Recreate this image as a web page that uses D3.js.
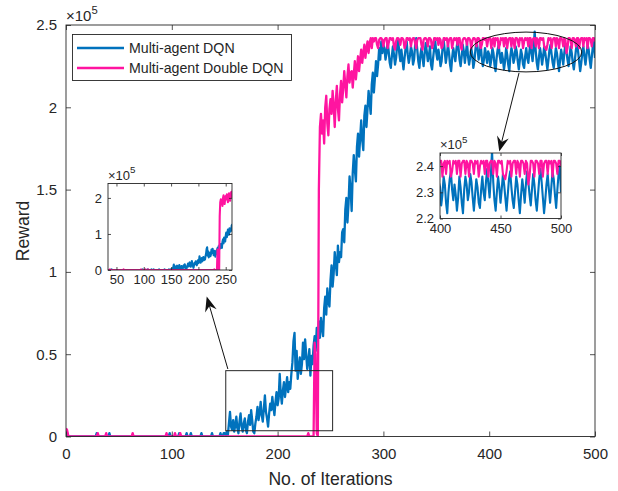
<!DOCTYPE html>
<html><head><meta charset="utf-8">
<script src="https://cdn.jsdelivr.net/npm/d3@7"></script>
<style>
body{margin:0;background:#fff}
svg text{font-family:"Liberation Sans",Arial,Helvetica,sans-serif;fill:#262626}
</style>
</head><body>
<svg id="chart" width="618" height="491"></svg>
<script>
// ---------------- data (reward in thousands, one value per iteration 0..500) ----------------
const seriesNames = ["Multi-agent DQN", "Multi-agent Double DQN"];
const dqn = [
3,2,0,0,0,0,0,0,0,0,
0,0,0,0,0,0,0,0,0,0,
0,0,0,0,0,0,0,0,0,2,
0,0,0,0,0,0,0,0,0,0,
0,2,0,0,0,0,0,0,0,0,
0,0,0,0,0,0,0,0,0,0,
0,0,0,0,0,0,0,0,0,0,
0,0,0,0,0,0,0,0,0,0,
0,0,0,0,0,0,0,0,0,0,
0,0,0,0,0,0,0,0,2,0,
0,0,0,0,0,0,0,2,0,0,
0,0,0,0,2,0,0,0,2,0,
0,0,0,0,0,0,0,0,2,0,
0,0,0,0,0,0,0,0,2,0,
0,0,0,0,0,0,2,0,0,2,
2,0,3,1,8,15,6,4,10,3,
7,12,5,2,9,14,6,3,8,11,
4,2,9,13,7,16,10,3,2,8,
12,18,10,14,21,13,9,17,25,15,
11,6,14,20,16,24,18,13,21,27,
19,23,38,26,20,28,33,24,30,36,
27,33,29,38,45,58,63,40,52,35,
42,48,38,44,57,47,59,50,41,46,
53,37,49,44,55,61,52,66,58,70,
60,72,66,61,78,85,74,90,82,79,
95,104,91,99,112,105,98,116,106,112,
109,124,126,118,138,145,130,141,158,150,
137,160,171,162,155,176,184,170,181,192,
180,174,195,201,188,199,210,203,196,214,
221,209,218,228,219,226,236,229,240,233,
238,
236,229,233,240,234,227,224,231,237,232,
226,230,238,241,233,228,235,229,223,230,
236,240,232,227,231,237,234,226,229,238,
242,235,228,224,232,236,230,225,233,239,
234,228,231,237,226,223,230,236,240,233,
229,235,231,225,228,237,241,234,227,232,
238,233,226,222,230,236,232,228,235,240,
236,229,225,231,238,234,227,233,239,231,
226,230,236,232,224,228,235,241,236,229,
233,238,230,225,229,236,232,227,234,232,
225,229,236,233,226,222,230,235,238,231,
227,233,229,223,228,236,232,226,222,231,
236,233,227,230,237,234,228,223,229,235,
232,226,224,231,236,230,227,234,239,233,
228,236,246,234,227,223,230,236,232,226,
231,237,233,228,223,229,235,238,232,227,
224,230,236,233,227,222,229,235,231,226,
233,238,234,229,225,231,237,233,227,223,
229,235,239,234,228,222,227,233,237,231,
226,232,238,235,229,224,231,237,240,230
];
const ddqn = [
5,4,1,0,0,0,0,0,0,0,
0,0,0,0,0,0,0,0,0,0,
0,0,0,0,0,0,0,0,0,0,
2,0,0,0,0,0,0,0,2,0,
0,0,0,0,0,0,0,0,0,0,
0,0,0,0,0,0,0,0,0,0,
0,0,0,2,0,0,0,0,0,0,
0,0,0,0,0,0,0,0,0,0,
0,0,0,0,0,0,0,0,0,0,
0,0,0,0,0,2,0,0,0,0,
0,0,0,2,0,0,0,0,2,0,
0,0,0,0,0,0,0,0,0,0,
0,0,0,0,0,0,0,0,0,0,
0,0,0,0,0,0,0,0,0,0,
0,0,0,0,0,0,0,0,0,0,
0,0,0,0,0,0,0,0,0,0,
0,0,0,0,0,0,0,0,0,0,
0,0,0,0,0,0,0,0,0,0,
0,0,0,0,0,0,0,0,0,0,
0,0,0,0,0,0,0,0,0,0,
0,0,0,0,0,0,0,0,0,0,
0,0,0,0,0,0,0,0,0,0,
0,0,0,0,0,0,0,0,0,2,
0,0,0,0,0,57,50,2,0,150,
188,196,184,192,178,200,207,190,183,199,
205,196,210,201,188,204,213,199,192,208,
216,203,211,222,214,206,219,226,215,221,
222,212,220,228,217,224,231,222,229,235,
227,233,238,230,236,240,233,239,242,236,
242,
240,242,242,238,236,241,242,242,241,237,
241,242,242,236,239,242,242,241,242,237,
235,240,242,242,241,238,242,242,241,236,
238,242,242,241,242,237,241,242,242,239,
236,241,242,242,242,238,235,241,242,242,
241,237,242,242,241,236,238,242,242,241,
242,238,242,241,236,237,242,242,241,242,
237,241,242,242,236,240,242,241,242,238,
242,242,237,235,241,242,242,241,238,242,
242,241,236,240,242,242,241,237,242,242,
241,236,238,242,242,241,242,237,241,242,
242,236,241,242,237,242,241,242,236,238,
242,241,242,237,242,242,236,241,242,242,
237,242,241,236,242,242,241,237,242,241,
242,236,240,242,241,242,237,242,242,236,
241,242,242,237,242,241,236,242,242,241,
242,237,236,235,238,242,241,242,236,241,
242,242,237,242,241,236,242,242,241,237,
242,241,233,236,242,242,241,236,242,242,
241,237,242,242,236,241,242,242,237,242,
241,242,236,242,242,241,237,242,242,240
];
const mainXTicks = [0, 100, 200, 300, 400, 500];
const mainYTicks = [0, 0.5, 1, 1.5, 2, 2.5];      // x 10^5
const inset1XTicks = [50, 100, 150, 200, 250];
const inset1YTicks = [0, 1, 2];                   // x 10^5
const inset2XTicks = [400, 450, 500];
const inset2YTicks = [2.2, 2.3, 2.4];             // x 10^5
const xLabel = "No. of Iterations";
const yLabel = "Reward";

// ---------------- drawing ----------------
const svg = d3.select("#chart");
const defs = svg.append("defs");
const COL = ["#0072BD", "#FF14A0"];
const INK = "#262626";
const FONT = '"Liberation Sans",Arial,Helvetica,sans-serif';
const series = [dqn, ddqn];

function expLabel(g, x, y, fs) {
  const t = g.append("text").attr("x", x).attr("y", y).style("font-size", fs + "px");
  t.append("tspan").text("\u00d710");
  t.append("tspan").attr("dy", -fs * 0.5).style("font-size", (fs * 0.75) + "px").text("5");
}

function panel(c) {
  const x = d3.scaleLinear().domain(c.xDom).range([c.left, c.right]);
  const y = d3.scaleLinear().domain(c.yDom).range([c.bottom, c.top]);
  const g = svg.append("g");
  g.append("rect").attr("x", c.left).attr("y", c.top)
    .attr("width", c.right - c.left).attr("height", c.bottom - c.top).attr("fill", "#fff");
  defs.append("clipPath").attr("id", c.id).append("rect")
    .attr("x", c.left).attr("y", c.top).attr("width", c.right - c.left).attr("height", c.bottom - c.top);
  const line = d3.line().x(d => x(d.i)).y(d => y(d.v * 1000));
  series.forEach((arr, k) => {
    const pts = arr.map((v, i) => ({ i, v })).filter(d => d.i >= c.from && d.i <= c.to);
    g.append("path").datum(pts).attr("clip-path", `url(#${c.id})`)
      .attr("fill", "none").attr("stroke", COL[k]).attr("stroke-width", c.lw)
      .attr("stroke-linejoin", "round").attr("d", line);
  });
  const fmtY = d => d3.format("~g")(d / 1e5);
  const style = sel => {
    sel.select(".domain").remove();
    sel.selectAll("line").attr("stroke", INK).attr("stroke-width", 0.8);
    sel.selectAll("text").attr("fill", INK).style("font-size", c.fs + "px").attr("font-family", FONT);
    sel.attr("font-family", null).attr("font-size", null);
  };
  g.append("g").attr("transform", `translate(0,${c.bottom})`)
    .call(d3.axisBottom(x).tickValues(c.xTicks).tickSize(-c.tl).tickPadding(c.xPad)).call(style);
  g.append("g").attr("transform", `translate(0,${c.top})`)
    .call(d3.axisTop(x).tickValues(c.xTicks).tickSize(-c.tl).tickFormat("")).call(style);
  g.append("g").attr("transform", `translate(${c.left},0)`)
    .call(d3.axisLeft(y).tickValues(c.yTicks.map(v => v * 1e5)).tickSize(-c.tl).tickPadding(c.yPad).tickFormat(fmtY)).call(style);
  g.append("g").attr("transform", `translate(${c.right},0)`)
    .call(d3.axisRight(y).tickValues(c.yTicks.map(v => v * 1e5)).tickSize(-c.tl).tickFormat("")).call(style);
  g.append("rect").attr("x", c.left).attr("y", c.top)
    .attr("width", c.right - c.left).attr("height", c.bottom - c.top)
    .attr("fill", "none").attr("stroke", INK).attr("stroke-width", 0.9);
  expLabel(g, c.left, c.top - c.expDy, c.expFs);
  return { x, y, g };
}

// main axes
const M = panel({ id: "clipMain", left: 66, right: 595, top: 25, bottom: 436.5,
  xDom: [0, 500], yDom: [0, 250000], xTicks: mainXTicks, yTicks: mainYTicks,
  from: 0, to: 500, lw: 2.3, fs: 15, tl: 5, xPad: 12, yPad: 9, expFs: 15, expDy: 4 });

// axis titles
svg.append("text").attr("x", (66 + 595) / 2).attr("y", 485).attr("text-anchor", "middle")
  .style("font-size", "17.6px").text(xLabel);
svg.append("text").attr("transform", "translate(28.5,231) rotate(-90)").attr("text-anchor", "middle")
  .style("font-size", "17.6px").text(yLabel);

// zoom rectangle and ellipse (annotations in main data coords)
const zoomBox = { x0: 151, x1: 252, y0: 3500, y1: 40000 };
svg.append("rect").attr("x", M.x(zoomBox.x0)).attr("y", M.y(zoomBox.y1))
  .attr("width", M.x(zoomBox.x1) - M.x(zoomBox.x0)).attr("height", M.y(zoomBox.y0) - M.y(zoomBox.y1))
  .attr("fill", "none").attr("stroke", INK).attr("stroke-width", 1);
const ell = { cx: 434.8, cy: 233600, rx: 52.7, ry: 12100 };
svg.append("ellipse").attr("cx", M.x(ell.cx)).attr("cy", M.y(ell.cy))
  .attr("rx", M.x(ell.rx) - M.x(0)).attr("ry", M.y(0) - M.y(ell.ry))
  .attr("fill", "none").attr("stroke", "#111").attr("stroke-width", 1);

function arrow(x1, y1, x2, y2) {
  const dx = x2 - x1, dy = y2 - y1, L = Math.hypot(dx, dy);
  const ux = dx / L, uy = dy / L, nx = -uy, ny = ux;
  const len = 15, hw = 6, ind = 5;
  svg.append("line").attr("x1", x1).attr("y1", y1).attr("x2", x2 - ux * 8).attr("y2", y2 - uy * 8)
    .attr("stroke", "#111").attr("stroke-width", 1);
  const p = [[x2, y2], [x2 - ux * len + nx * hw, y2 - uy * len + ny * hw],
    [x2 - ux * (len - ind), y2 - uy * (len - ind)], [x2 - ux * len - nx * hw, y2 - uy * len - ny * hw]];
  svg.append("polygon").attr("points", p.map(q => q.join(",")).join(" ")).attr("fill", "#111");
}
arrow(M.x(153), M.y(41000), M.x(133), M.y(85100));
arrow(M.x(428.2), M.y(220900), M.x(409.5), M.y(173100));

// inset 1
panel({ id: "clipIn1", left: 108, right: 232, top: 183.5, bottom: 270,
  xDom: [34.5, 261.5], yDom: [0, 240000], xTicks: inset1XTicks, yTicks: inset1YTicks,
  from: 30, to: 265, lw: 2.1, fs: 13, tl: 3, xPad: 5, yPad: 6, expFs: 13, expDy: 4 });

// inset 2
panel({ id: "clipIn2", left: 440, right: 561, top: 153, bottom: 218.5,
  xDom: [400, 500], yDom: [220000, 245000], xTicks: inset2XTicks, yTicks: inset2YTicks,
  from: 399, to: 500, lw: 2.1, fs: 13, tl: 3, xPad: 5, yPad: 6, expFs: 13, expDy: 4 });

// legend
const lg = svg.append("g");
lg.append("rect").attr("x", 72.5).attr("y", 34.5).attr("width", 219).attr("height", 46)
  .attr("fill", "#fff").attr("stroke", INK).attr("stroke-width", 0.9);
seriesNames.forEach((n, k) => {
  const yy = 48 + k * 20;
  lg.append("line").attr("x1", 77).attr("x2", 124).attr("y1", yy).attr("y2", yy)
    .attr("stroke", COL[k]).attr("stroke-width", 2.3);
  lg.append("text").attr("x", 129).attr("y", yy).attr("dy", "0.36em")
    .style("font-size", "14.2px").text(n);
});
</script>
</body></html>
